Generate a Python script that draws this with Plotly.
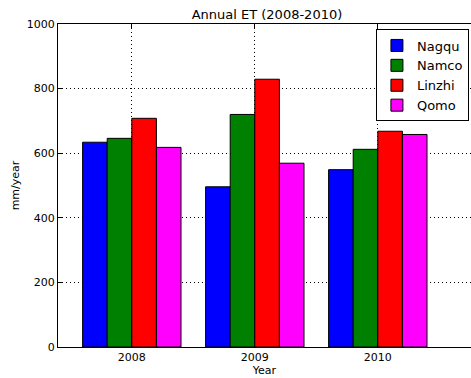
import plotly.graph_objects as go

years = ["2008", "2009", "2010"]
series_names = ["Nagqu", "Namco", "Linzhi", "Qomo"]
nagqu = [634, 496, 549]
namco = [646, 720, 612]
linzhi = [708, 829, 668]
qomo = [618, 569, 658]
colors = ["#0000ff", "#008000", "#ff0000", "#ff00ff"]

values = [nagqu, namco, linzhi, qomo]
bar_w = 0.2

fig = go.Figure()
for k, (name, vals, col) in enumerate(zip(series_names, values, colors)):
    fig.add_trace(go.Bar(
        x=[i + bar_w / 2 + bar_w * k for i in range(len(years))],
        y=vals, width=bar_w, name=name,
        marker=dict(color=col, line=dict(color="black", width=1)),
    ))

font = "DejaVu Sans"
fig.update_layout(
    width=471, height=378,
    margin=dict(l=58, r=0, t=24, b=31, autoexpand=False),
    paper_bgcolor="white", plot_bgcolor="white",
    barmode="overlay",
    font=dict(family=font, size=11, color="black"),
    title=dict(text="Annual ET (2008-2010)", xref="paper", x=0.506, xanchor="center",
               y=1 - 14 / 378, yanchor="middle",
               font=dict(family=font, size=13, color="black")),
    legend=dict(x=0.995, xanchor="right", y=0.983, yanchor="top",
                bordercolor="black", borderwidth=1, bgcolor="white",
                font=dict(family=font, size=13, color="black"),
                itemwidth=30, tracegroupgap=0),
    showlegend=True,
)
fig.update_xaxes(
    range=[-0.2, -0.2 + 413 / 123],
    tickvals=[i + 2 * bar_w for i in range(len(years))],
    ticktext=years,
    showgrid=True, gridcolor="black", griddash="1px,3px", gridwidth=1,
    showline=True, linecolor="black", linewidth=1, mirror="ticks",
    ticks="inside", ticklen=4, tickcolor="black",
    zeroline=False, automargin=False,
    title=dict(text="Year", standoff=2, font=dict(family=font, size=11)),
)
fig.update_yaxes(
    range=[0, 1000], tickvals=[0, 200, 400, 600, 800, 1000],
    showgrid=True, gridcolor="black", griddash="1px,3px", gridwidth=1,
    showline=True, linecolor="black", linewidth=1,
    ticks="inside", ticklen=4, tickcolor="black",
    zeroline=False, automargin=False,
    title=dict(text="mm/year", standoff=4, font=dict(family=font, size=11)),
)
fig.write_html("out.html", config={"displayModeBar": False},
               post_script="document.body.style.margin='0px';")
